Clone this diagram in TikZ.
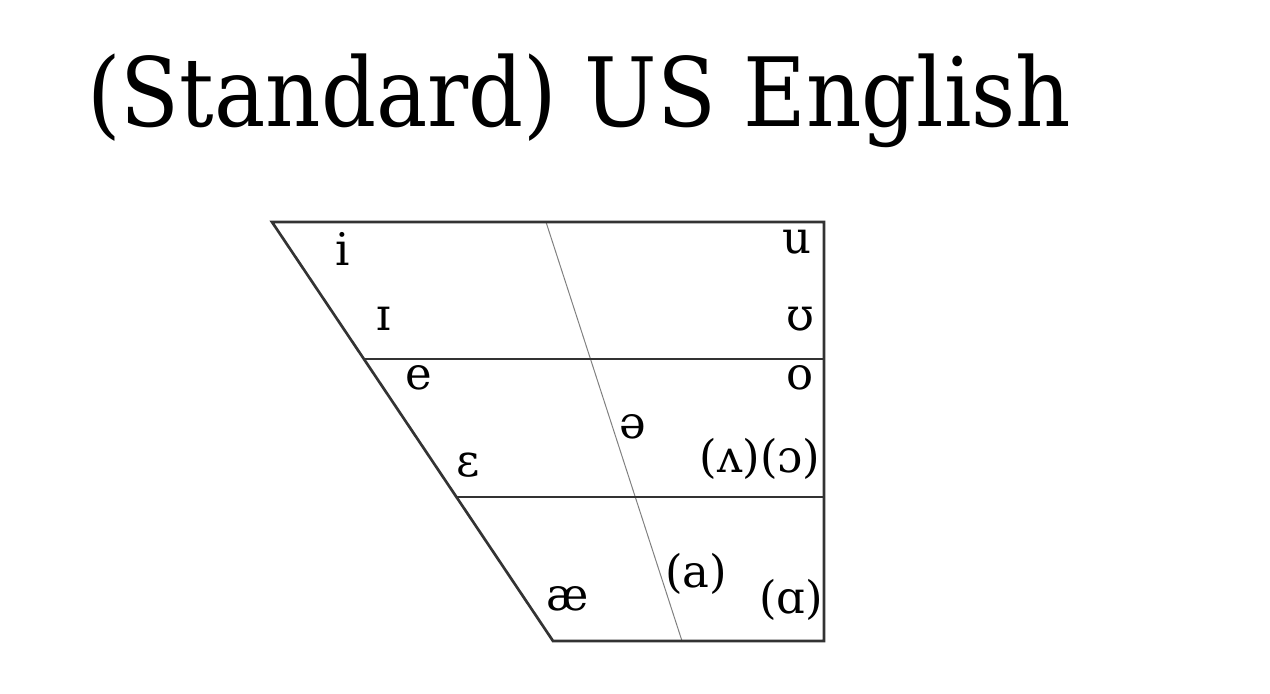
\documentclass[tikz,border=0pt]{standalone}
\usepackage{fontspec}
\setmainfont{DejaVu Serif}
\newfontfamily\ipafont{DejaVu Serif}
\begin{document}
\begin{tikzpicture}[x=0.025cm,y=-0.025cm,
  frame/.style={line width=1.9pt, draw=black!80},
  thinline/.style={line width=0.7pt, draw=black!50},
  vowel/.style={anchor=base, inner sep=0pt, font=\ipafont\fontsize{32pt}{36pt}\selectfont},
  titletext/.style={anchor=base west, inner sep=0pt, font=\fontsize{68pt}{80pt}\selectfont, xscale=0.90}]
\useasboundingbox[fill=white] (0,0) rectangle (1270,694);
\node[titletext] (title) at (87,127) {(Standard) US English};
% corners
\coordinate (tl) at (272,222);
\coordinate (tr) at (824,222);
\coordinate (br) at (824,641);
\coordinate (bl) at (553,641);
\coordinate (ml) at (364.8,359);
\coordinate (mr) at (824,359);
\coordinate (ll) at (456.7,497);
\coordinate (lr) at (824,497);
\coordinate (ct) at (546,222);
\coordinate (cb) at (682,641);
\draw[thinline] (ct) -- (cb);
\draw[frame, line join=miter] (bl) -- (tl) -- (tr) -- (br) -- cycle;
\draw[frame] (ml) -- (mr);
\draw[frame] (ll) -- (lr);
% vowels
\node[vowel] (i) at (343,266) {i};
\node[vowel] (I) at (384,331) {ɪ};
\node[vowel] (u) at (797,254) {u};
\node[vowel] (U) at (800,331) {ʊ};
\node[vowel] (e) at (419,390) {e};
\node[vowel] (E) at (468,477) {ɛ};
\node[vowel] (schwa) at (633,439) {ə};
\node[vowel] (o) at (800,390) {o};
\node[vowel] (vo) at (760,473) {(ʌ)(ɔ)};
\node[vowel] (ae) at (568,610) {æ};
\node[vowel] (a) at (696,587) {(a)};
\node[vowel] (A) at (791,613) {(ɑ)};
\end{tikzpicture}
\end{document}
